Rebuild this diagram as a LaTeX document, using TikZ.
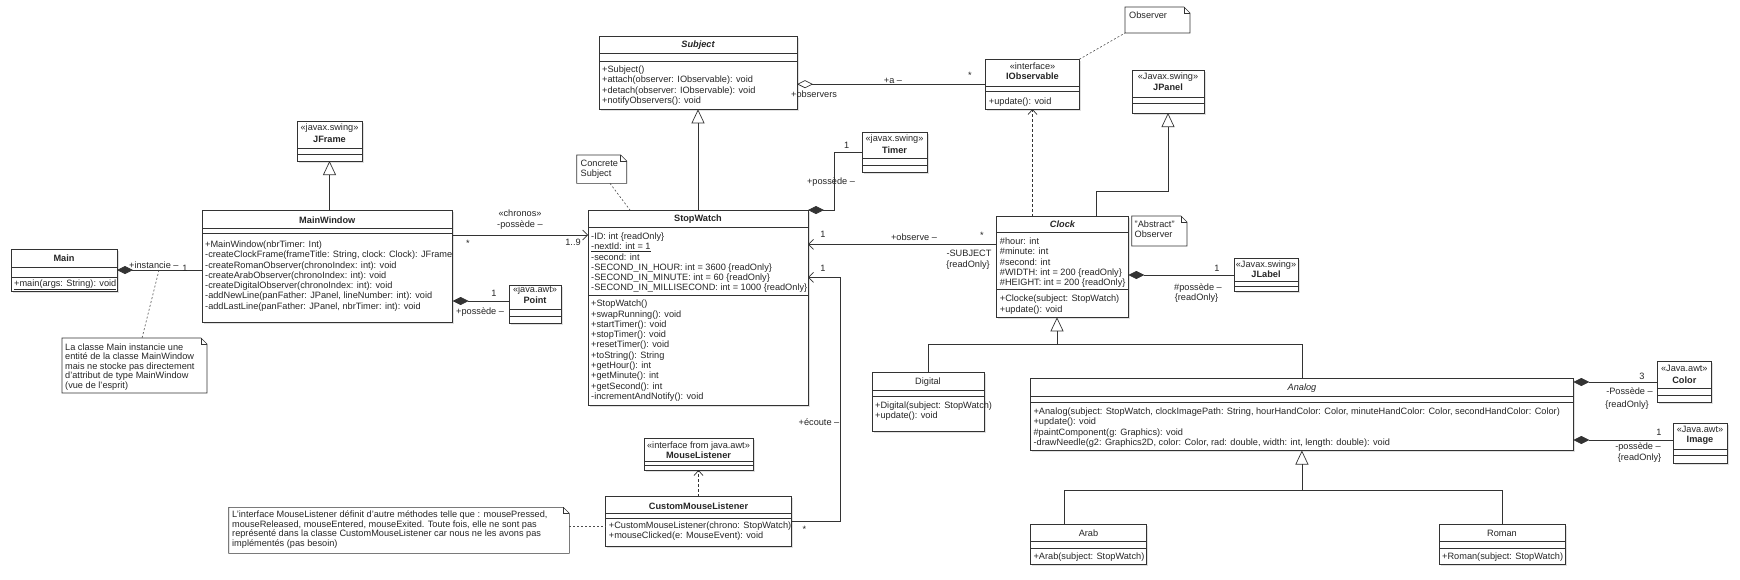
\documentclass[tikz,border=0pt]{standalone}
\usepackage{fontspec}
\setmainfont{Liberation Sans}
\usetikzlibrary{arrows.meta,shadows}

\tikzset{
  uml/.style={draw=black!80, line width=0.7pt},
  classbox/.style={uml, fill=white, inner sep=0pt, outer sep=0pt, anchor=north west,
    drop shadow={shadow xshift=1.5pt, shadow yshift=-1.5pt, fill=black, opacity=0.12}},
  title/.style={inner sep=0pt, font=\bfseries},
  ititle/.style={inner sep=0pt, font=\bfseries\itshape},
  stereo/.style={inner sep=0pt},
  member/.style={inner sep=0pt, anchor=north west, align=left},
  lbl/.style={inner sep=0pt, anchor=base},
  notebox/.style={inner sep=0pt, outer sep=0pt, anchor=north west},
  notetext/.style={inner sep=0pt, anchor=north west, align=left, font=\fontsize{9.2}{9.5}\selectfont},
  noteln/.style={draw=black!70, line width=0.6pt, dash pattern=on 2pt off 2pt},
  comp/.style={uml, {Diamond[length=16pt,width=8pt]}-},
  aggr/.style={uml, {Diamond[open,length=16pt,width=8pt]}-},
  assoc/.style={uml, -{Straight Barb[length=5pt,width=10pt]}},
  gen/.style={uml, -{Triangle[open,length=14pt,width=13pt]}},
  real/.style={uml, dash pattern=on 3pt off 2pt, -{Straight Barb[length=5pt,width=9pt]}},
}

\begin{document}
\fontsize{9.2}{10.3}\selectfont
\begin{tikzpicture}[x=1pt,y=-1pt,text=black!85]
\useasboundingbox[fill=white] (0,0) rectangle (1740,579);

% Main
\node[classbox, minimum width=106pt, minimum height=42pt] (main) at (11,249) {};
\node[title] (main-t) at (64,258) {Main};
\draw[uml] (11,267) -- (117,267) (11,277) -- (117,277);
\node[member] (main-m) at (14,279.5) {\underline{+main(args: String): void}};

\node[notebox, minimum width=145pt, minimum height=55pt] (mainnote) at (62,338) {};
\draw[uml, line width=0.6pt] (mainnote.north west) -- ([xshift=-6pt]mainnote.north east) -- ([yshift=-6pt]mainnote.north east) -- (mainnote.south east) -- (mainnote.south west) -- cycle;
\draw[uml, line width=0.6pt] ([xshift=-6pt]mainnote.north east) |- ([yshift=-6pt]mainnote.north east);
\node[notetext] (mainnote-t) at (65,343.5) {La classe Main instancie une\\entité de la classe MainWindow\\mais ne stocke pas directement\\d'attribut de type MainWindow\\(vue de l'esprit)};

% JFrame
\node[classbox, minimum width=65pt, minimum height=40pt] (jframe) at (297,121) {};
\node[stereo] (jframe-s) at (329.5,128.5) {«javax.swing»};
\node[title] (jframe-t) at (329.5,139) {JFrame};
\draw[uml] (297,148) -- (362,148) (297,154) -- (362,154);

% MainWindow
\node[classbox, minimum width=250.7pt, minimum height=112pt] (mainwin) at (202,210) {};
\node[title] (mainwin-t) at (327.3,220.5) {MainWindow};
\draw[uml] (202,228) -- (452.7,228) (202,233) -- (452.7,233);
\node[member] (mainwin-m) at (205,240.6) {+MainWindow(nbrTimer: Int)\\-createClockFrame(frameTitle: String, clock: Clock): JFrame\\-createRomanObserver(chronoIndex: int): void\\-createArabObserver(chronoIndex: int): void\\-createDigitalObserver(chronoIndex: int): void\\-addNewLine(panFather: JPanel, lineNumber: int): void\\-addLastLine(panFather: JPanel, nbrTimer: int): void};

% Point
\node[classbox, minimum width=52pt, minimum height=38pt] (point) at (509,285) {};
\node[stereo] (point-s) at (535,290.5) {«java.awt»};
\node[title] (point-t) at (535,300.5) {Point};
\draw[uml] (509,309) -- (561,309) (509,316) -- (561,316);

% StopWatch
\node[classbox, minimum width=220pt, minimum height=195pt] (sw) at (588,210) {};
\node[title] (sw-t) at (698,219) {StopWatch};
\draw[uml] (588,227.3) -- (808,227.3) (588,295.5) -- (808,295.5);
\node[member] (sw-a) at (591,232.6) {-ID: int \{readOnly\}\\\underline{-nextId: int = 1}\\-second: int\\-SECOND\_IN\_HOUR: int = 3600 \{readOnly\}\\-SECOND\_IN\_MINUTE: int = 60 \{readOnly\}\\-SECOND\_IN\_MILLISECOND: int = 1000 \{readOnly\}};
\node[member] (sw-m) at (591,299.9) {+StopWatch()\\+swapRunning(): void\\+startTimer(): void\\+stopTimer(): void\\+resetTimer(): void\\+toString(): String\\+getHour(): int\\+getMinute(): int\\+getSecond(): int\\-incrementAndNotify(): void};

\node[notebox, minimum width=50pt, minimum height=28.4pt] (concnote) at (576.7,155) {};
\draw[uml, line width=0.6pt] (concnote.north west) -- ([xshift=-6pt]concnote.north east) -- ([yshift=-6pt]concnote.north east) -- (concnote.south east) -- (concnote.south west) -- cycle;
\draw[uml, line width=0.6pt] ([xshift=-6pt]concnote.north east) |- ([yshift=-6pt]concnote.north east);
\node[notetext] (concnote-t) at (580.5,160) {Concrete\\Subject};

% Subject
\node[classbox, minimum width=198pt, minimum height=72.6pt] (subject) at (599,36.7) {};
\node[ititle] (subject-t) at (698,45.5) {Subject};
\draw[uml] (599,53.3) -- (797,53.3) (599,61) -- (797,61);
\node[member, font=\fontsize{9.2}{10.5}\selectfont] (subject-m) at (602,65.6) {+Subject()\\+attach(observer: IObservable): void\\+detach(observer: IObservable): void\\+notifyObservers(): void};

% IObservable
\node[classbox, minimum width=93.6pt, minimum height=49.7pt] (iobs) at (985.7,59.3) {};
\node[stereo] (iobs-s) at (1032.5,66) {«interface»};
\node[title] (iobs-t) at (1032.5,76.7) {IObservable};
\draw[uml] (985.7,86.7) -- (1079.3,86.7) (985.7,91.7) -- (1079.3,91.7);
\node[member] (iobs-m) at (988.7,97.3) {+update(): void};

\node[notebox, minimum width=65pt, minimum height=26pt] (obsnote) at (1125,7) {};
\draw[uml, line width=0.6pt] (obsnote.north west) -- ([xshift=-6pt]obsnote.north east) -- ([yshift=-6pt]obsnote.north east) -- (obsnote.south east) -- (obsnote.south west) -- cycle;
\draw[uml, line width=0.6pt] ([xshift=-6pt]obsnote.north east) |- ([yshift=-6pt]obsnote.north east);
\node[notetext] (obsnote-t) at (1129,12) {Observer};

% Timer
\node[classbox, minimum width=65pt, minimum height=40pt] (timer) at (862,132.7) {};
\node[stereo] (timer-s) at (894.5,139.3) {«javax.swing»};
\node[title] (timer-t) at (894.5,150) {Timer};
\draw[uml] (862,158) -- (927,158) (862,165.7) -- (927,165.7);

% Clock
\node[classbox, minimum width=131.6pt, minimum height=100.6pt] (clock) at (996.7,216.7) {};
\node[ititle] (clock-t) at (1062.5,224.3) {Clock};
\draw[uml] (996.7,232.7) -- (1128.3,232.7) (996.7,289.3) -- (1128.3,289.3);
\node[member] (clock-a) at (999.7,237.6) {\#hour: int\\\#minute: int\\\#second: int\\\#WIDTH: int = 200 \{readOnly\}\\\#HEIGHT: int = 200 \{readOnly\}};
\node[member] (clock-m) at (999.7,294.9) {+Clocke(subject: StopWatch)\\+update(): void};

\node[notebox, minimum width=55.3pt, minimum height=30pt] (absnote) at (1131.7,216) {};
\draw[uml, line width=0.6pt] (absnote.north west) -- ([xshift=-6pt]absnote.north east) -- ([yshift=-6pt]absnote.north east) -- (absnote.south east) -- (absnote.south west) -- cycle;
\draw[uml, line width=0.6pt] ([xshift=-6pt]absnote.north east) |- ([yshift=-6pt]absnote.north east);
\node[notetext] (absnote-t) at (1134.5,221) {"Abstract"\\Observer};

% JPanel
\node[classbox, minimum width=72pt, minimum height=43pt] (jpanel) at (1132,70) {};
\node[stereo] (jpanel-s) at (1168,77) {«Javax.swing»};
\node[title] (jpanel-t) at (1168,87.5) {JPanel};
\draw[uml] (1132,97) -- (1204,97) (1132,103.5) -- (1204,103.5);

% JLabel
\node[classbox, minimum width=64pt, minimum height=33pt] (jlabel) at (1234,258.5) {};
\node[stereo] (jlabel-s) at (1266,265) {«Javax.swing»};
\node[title] (jlabel-t) at (1266,274.5) {JLabel};
\draw[uml] (1234,281.5) -- (1298,281.5) (1234,286.5) -- (1298,286.5);

% Digital
\node[classbox, minimum width=112pt, minimum height=59pt] (digital) at (872,372.7) {};
\node[stereo] (digital-t) at (928,381.7) {Digital};
\draw[uml] (872,390) -- (984,390) (872,396.5) -- (984,396.5);
\node[member] (digital-m) at (875,401.6) {+Digital(subject: StopWatch)\\+update(): void};

% Analog
\node[classbox, minimum width=543pt, minimum height=72.2pt] (analog) at (1030.4,378.3) {};
\node[stereo, font=\itshape] (analog-t) at (1302,388.3) {Analog};
\draw[uml] (1030.4,396.7) -- (1573.4,396.7) (1030.4,402.3) -- (1573.4,402.3);
\node[member, font=\fontsize{9.2}{10.5}\selectfont] (analog-m) at (1033.4,407.6) {+Analog(subject: StopWatch, clockImagePath: String, hourHandColor: Color, minuteHandColor: Color, secondHandColor: Color)\\+update(): void\\\#paintComponent(g: Graphics): void\\-drawNeedle(g2: Graphics2D, color: Color, rad: double, width: int, length: double): void};

% Color, Image
\node[classbox, minimum width=53.3pt, minimum height=40.6pt] (color) at (1657.7,361.7) {};
\node[stereo] (color-s) at (1684.3,368.3) {«Java.awt»};
\node[title] (color-t) at (1684.3,380) {Color};
\draw[uml] (1657.7,388.3) -- (1711,388.3) (1657.7,395) -- (1711,395);

\node[classbox, minimum width=54pt, minimum height=40.5pt] (image) at (1673,423.3) {};
\node[stereo] (image-s) at (1700,429.8) {«Java.awt»};
\node[title] (image-t) at (1700,440.3) {Image};
\draw[uml] (1673,449.3) -- (1727,449.3) (1673,455.8) -- (1727,455.8);

% Arab, Roman
\node[classbox, minimum width=116pt, minimum height=40.3pt] (arab) at (1030.4,524) {};
\node[stereo] (arab-t) at (1088.5,533) {Arab};
\draw[uml] (1030.4,541.7) -- (1146.4,541.7) (1030.4,548.3) -- (1146.4,548.3);
\node[member] (arab-m) at (1033.4,552.6) {+Arab(subject: StopWatch)};

\node[classbox, minimum width=126pt, minimum height=40.3pt] (roman) at (1439,524) {};
\node[stereo] (roman-t) at (1502,533) {Roman};
\draw[uml] (1439,541.7) -- (1565,541.7) (1439,548.3) -- (1565,548.3);
\node[member] (roman-m) at (1442,552.6) {+Roman(subject: StopWatch)};

% MouseListener, CustomMouseListener
\node[classbox, minimum width=109pt, minimum height=32pt] (ml) at (644,438) {};
\node[stereo] (ml-s) at (698.5,446) {«interface from java.awt»};
\node[title] (ml-t) at (698.5,455.5) {MouseListener};
\draw[uml] (644,461) -- (753,461) (644,465.5) -- (753,465.5);

\node[classbox, minimum width=185.6pt, minimum height=49.3pt] (cml) at (605.7,496.7) {};
\node[title] (cml-t) at (698.5,506) {CustomMouseListener};
\draw[uml] (605.7,513.3) -- (791.3,513.3) (605.7,518.5) -- (791.3,518.5);
\node[member] (cml-m) at (608.7,521.6) {+CustomMouseListener(chrono: StopWatch)\\+mouseClicked(e: MouseEvent): void};

\node[notebox, minimum width=340.6pt, minimum height=46pt] (mlnote) at (228.7,507.3) {};
\draw[uml, line width=0.6pt] (mlnote.north west) -- ([xshift=-6pt]mlnote.north east) -- ([yshift=-6pt]mlnote.north east) -- (mlnote.south east) -- (mlnote.south west) -- cycle;
\draw[uml, line width=0.6pt] ([xshift=-6pt]mlnote.north east) |- ([yshift=-6pt]mlnote.north east);
\node[notetext] (mlnote-t) at (232,511) {L'interface MouseListener définit d'autre méthodes telle que : mousePressed,\\mouseReleased, mouseEntered, mouseExited. Toute fois, elle ne sont pas\\représenté dans la classe CustomMouseListener car nous ne les avons pas\\implémentés (pas besoin)};

% connectors
\draw[comp] (main.east) -- (main.east -| mainwin.west);
\node[lbl, anchor=base west] (l-inst) at (129,268.5) {+instancie –};
\node[lbl] (l-inst-m) at (185,271.5) {1};
\coordinate (inst-c) at (159,270);
\draw[noteln] (inst-c) -- (mainnote.north -| 142,0);

\draw[gen] (jframe.south |- mainwin.north) -- (jframe.south);

\draw[assoc] (mainwin.east |- 0,235) -- (sw.west |- 0,235);
\node[lbl] (l-chronos) at (520,216.3) {«chronos»};
\node[lbl] (l-chronos-r) at (520,227.3) {-possède –};
\node[lbl] (l-chronos-m1) at (468,246) {*};
\node[lbl] (l-chronos-m2) at (573,245.5) {1..9};

\draw[comp] (mainwin.east |- 0,301) -- (point.west |- 0,301);
\node[lbl] (l-point-m) at (494,296.5) {1};
\node[lbl, anchor=base west] (l-point-r) at (456,314) {+possède –};

\draw[gen] (sw.north) -- (subject.south);
\draw[noteln] (concnote.south -| 610,0) -- (sw.north -| 630,0);

\draw[comp] (sw.north east) -- ++(26,0) |- (timer.west);
\node[lbl] (l-timer-m) at (846.7,148.5) {1};
\node[lbl] (l-timer-r) at (831,184.5) {+possède –};

\draw[aggr] (subject.east |- iobs.west) -- (iobs.west);
\node[lbl, anchor=base west] (l-obs) at (791,97.5) {+observers};
\node[lbl] (l-obs-r) at (893,83.3) {+a –};
\node[lbl] (l-obs-m) at (970,78) {*};
\draw[noteln] (iobs.north east) -- (obsnote.south west);

\draw[real] (iobs.south |- clock.north) -- (iobs.south);
\draw[gen] (clock.north -| 1096,0) |- (jpanel.south |- 0,191) -- (jpanel.south);

\draw[assoc] (clock.west |- 0,244.3) -- (sw.east |- 0,244.3);
\node[lbl] (l-sub-m1) at (823,237.5) {1};
\node[lbl] (l-sub-r) at (914,240.6) {+observe –};
\node[lbl] (l-sub-m2) at (982,238) {*};
\node[lbl] (l-sub-n) at (969,256.6) {-SUBJECT};
\node[lbl] (l-sub-c) at (968,267.6) {\{readOnly\}};

\draw[assoc] (cml.east) -- (cml.east -| 840,0) |- (sw.east |- 0,277.3);
\node[lbl] (l-ecoute-m1) at (823,271.6) {1};
\node[lbl] (l-ecoute-r) at (819,425) {+écoute –};
\node[lbl] (l-ecoute-m2) at (804.5,532) {*};

\draw[real] (cml.north) -- (ml.south);
\draw[noteln] (mlnote.east |- 0,526) -- (cml.west |- 0,526);

\draw[comp] (clock.east |- jlabel.west) -- (jlabel.west);
\node[lbl] (l-jlabel-m) at (1217,271) {1};
\node[lbl] (l-jlabel-r) at (1198,290.7) {\#possède –};
\node[lbl] (l-jlabel-c) at (1196.5,300.7) {\{readOnly\}};

\draw[uml] (digital.north) |- (analog.north |- 0,344.3) -- (analog.north);
\draw[gen] (1057,344.3) -- (clock.south -| 1057,0);

\draw[uml] (arab.north -| 1064,0) |- (roman.north |- 0,490.3) -- (roman.north);
\draw[gen] (analog.south |- 0,490.3) -- (analog.south);

\draw[comp] (analog.east |- color.west) -- (color.west);
\node[lbl] (l-color-m) at (1642,379.5) {3};
\node[lbl] (l-color-r) at (1629.5,394) {-Possède –};
\node[lbl] (l-color-c) at (1627,407.3) {\{readOnly\}};

\draw[comp] (analog.east |- 0,440) -- (image.west |- 0,440);
\node[lbl] (l-image-m) at (1659,435) {1};
\node[lbl] (l-image-r) at (1638,449.3) {-possède –};
\node[lbl] (l-image-c) at (1639.5,460.3) {\{readOnly\}};
\end{tikzpicture}
\end{document}
